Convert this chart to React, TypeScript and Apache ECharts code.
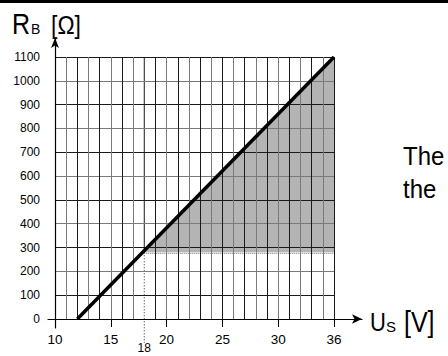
import React, { useEffect, useRef } from "react";
import * as echarts from "echarts";

// Supply voltage grid (one column per step; the drawn scale ends at 36 V)
const voltageCategories = [
  "10", "11", "12", "13", "14", "15", "16", "17", "18", "19", "20", "21", "22",
  "23", "24", "25", "26", "27", "28", "29", "30", "31", "32", "33", "34", "36",
];
const labeledVoltages = ["10", "15", "20", "25", "30", "36"];
const markedVoltage = "18";

// Resistance axis
const resistanceMin = 0;
const resistanceMax = 1100;
const resistanceStep = 100;

// Upper limit of R_B as a function of U_S
const limitLine: [string, number][] = [
  ["12", 0],
  ["36", 1100],
];

// Permitted operating area (corners)
const permittedArea: [string, number][] = [
  ["18", 280],
  ["36", 280],
  ["36", 1100],
];
const minResistance = 280;

const FONT = "'Liberation Sans', Arial, sans-serif";

const xi = (v: string) => voltageCategories.indexOf(v);

export default function App() {
  const ref = useRef<HTMLDivElement>(null);

  useEffect(() => {
    if (!ref.current) return;
    const chart = echarts.init(ref.current, undefined, { renderer: "svg" });

    const option: any = {
      animation: false,
      backgroundColor: "#fff",
      grid: [
        { left: 55, right: 114, top: 57, bottom: 37, outerBoundsMode: "none" },
        // frame for the arrowed axis lines, which run past the plot area
        { left: 48, right: 86, top: 38, bottom: 28, outerBoundsMode: "none" },
      ],
      xAxis: [
        {
          type: "category",
          gridIndex: 0,
          data: voltageCategories,
          boundaryGap: false,
          axisLine: { show: false },
          axisTick: {
            show: true,
            length: 8,
            interval: (_i: number, v: string) => labeledVoltages.includes(v),
            lineStyle: { color: "#000", width: 1 },
          },
          axisLabel: {
            interval: (_i: number, v: string) =>
              labeledVoltages.includes(v) || v === markedVoltage,
            formatter: (v: string) => (v === markedVoltage ? `{low|${v}}` : v),
            margin: 13,
            color: "#000",
            fontFamily: FONT,
            fontSize: 13.5,
            rich: {
              low: {
                fontFamily: FONT,
                fontSize: 12,
                color: "#000",
                padding: [10, 0, 0, 0],
              },
            },
          },
          splitLine: {
            show: true,
            interval: (_i: number, v: string) => v !== markedVoltage,
            lineStyle: { color: ["#1a1a1a", "#7a7a7a"], width: 1 },
          },
        },
        {
          type: "value",
          gridIndex: 1,
          min: -7,
          max: 307,
          axisLine: {
            show: true,
            onZero: true,
            symbol: ["none", "arrow"],
            symbolSize: [7, 10],
            lineStyle: { color: "#000", width: 1.2 },
          },
          axisTick: { show: false },
          axisLabel: { show: false },
          splitLine: { show: false },
        },
      ],
      yAxis: [
        {
          type: "value",
          gridIndex: 0,
          min: resistanceMin,
          max: resistanceMax,
          interval: resistanceStep,
          axisLine: { show: false },
          axisTick: { show: false },
          axisLabel: {
            margin: 15,
            color: "#000",
            fontFamily: FONT,
            fontSize: 12,
            formatter: (v: number) => String(v),
          },
          splitLine: {
            show: true,
            lineStyle: { color: ["#7a7a7a", "#1a1a1a"], width: 1 },
          },
        },
        {
          type: "value",
          gridIndex: 1,
          min: -9,
          max: 281,
          axisLine: {
            show: true,
            onZero: true,
            symbol: ["none", "arrow"],
            symbolSize: [6, 10],
            lineStyle: { color: "#000", width: 1.2 },
          },
          axisTick: { show: false },
          axisLabel: { show: false },
          splitLine: { show: false },
        },
      ],
      series: [
        {
          type: "custom",
          xAxisIndex: 0,
          yAxisIndex: 0,
          z: -1,
          clip: false,
          silent: true,
          data: [0],
          renderItem: (_params: any, api: any) => {
            const pts = permittedArea.map(([x, y]) => api.coord([xi(x), y]));
            const top = api.coord([xi(markedVoltage), resistanceMax]);
            const knee = api.coord([xi(markedVoltage), minResistance]);
            const foot = api.coord([xi(markedVoltage), resistanceMin]);
            const right = api.coord([xi("36"), minResistance]);
            return {
              type: "group",
              children: [
                {
                  type: "polygon",
                  shape: { points: pts },
                  style: { fill: "#b4b4b4" },
                },
                {
                  type: "line",
                  shape: { x1: top[0], y1: top[1], x2: knee[0], y2: knee[1] },
                  style: { stroke: "#1a1a1a", lineWidth: 1 },
                },
                {
                  type: "line",
                  shape: { x1: knee[0], y1: knee[1], x2: foot[0], y2: foot[1] + 24 },
                  style: { stroke: "#222", lineWidth: 1, lineDash: [1, 2] },
                },
                {
                  type: "line",
                  shape: { x1: knee[0], y1: knee[1] + 1, x2: right[0], y2: right[1] + 1 },
                  style: { stroke: "#666", lineWidth: 1, lineDash: [1, 1] },
                },
              ],
            };
          },
        },
        {
          type: "line",
          xAxisIndex: 0,
          yAxisIndex: 0,
          z: 3,
          showSymbol: false,
          silent: true,
          data: limitLine.map(([x, y]) => [xi(x), y]),
          lineStyle: { color: "#000", width: 3.5 },
        },
      ],
      graphic: [
        {
          type: "rect",
          shape: { x: 0, y: 0, width: 448, height: 3 },
          style: { fill: "#000" },
        },
        {
          type: "text",
          x: 12,
          y: 24,
          scaleY: 1.15,
          style: { text: "R", font: `25px ${FONT}`, fill: "#000", verticalAlign: "middle" },
        },
        {
          type: "text",
          x: 31,
          y: 29,
          style: { text: "B", font: `14px ${FONT}`, fill: "#000", verticalAlign: "middle" },
        },
        {
          type: "text",
          x: 51,
          y: 25,
          scaleY: 1.12,
          style: { text: "[Ω]", font: `23px ${FONT}`, fill: "#000", verticalAlign: "middle" },
        },
        {
          type: "text",
          x: 370,
          y: 322,
          scaleY: 1.2,
          style: { text: "U", font: `22px ${FONT}`, fill: "#000", verticalAlign: "middle" },
        },
        {
          type: "text",
          x: 386,
          y: 326,
          style: { text: "S", font: `15px ${FONT}`, fill: "#000", verticalAlign: "middle" },
        },
        {
          type: "text",
          x: 404,
          y: 322,
          scaleY: 1.15,
          style: { text: "[V]", font: `25px ${FONT}`, fill: "#000", verticalAlign: "middle" },
        },
        {
          type: "text",
          x: 403,
          y: 156,
          scaleY: 1.1,
          style: { text: "The", font: `24px ${FONT}`, fill: "#000", verticalAlign: "middle" },
        },
        {
          type: "text",
          x: 403,
          y: 189,
          scaleY: 1.1,
          style: { text: "the", font: `24px ${FONT}`, fill: "#000", verticalAlign: "middle" },
        },
      ],
    };

    chart.setOption(option);
    return () => chart.dispose();
  }, []);

  return (
    <div
      ref={ref}
      style={{ position: "fixed", left: 0, top: 0, width: 448, height: 356 }}
    />
  );
}
